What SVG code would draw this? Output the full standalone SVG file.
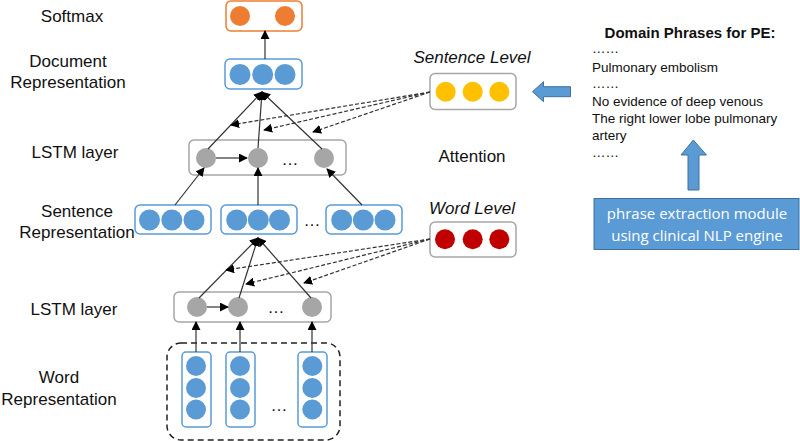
<svg xmlns="http://www.w3.org/2000/svg" width="800" height="441" viewBox="0 0 800 441">
<defs>
<style>
.lbl{font-family:"Liberation Sans",Arial,sans-serif;font-size:17px;fill:#111;text-anchor:middle}
.ital{font-family:"Liberation Sans",Arial,sans-serif;font-size:17px;font-style:italic;fill:#111;text-anchor:middle}
.ph{font-family:"Liberation Sans",Arial,sans-serif;font-size:13.5px;fill:#111}
.bbox{fill:#fff;stroke:#5b9bd5;stroke-width:1.5}
.gbox{fill:#fff;stroke:#a6a6a6;stroke-width:1.5}
.bc{fill:#5b9bd5}
.gc{fill:#a6a6a6}
.sol{stroke:#333;stroke-width:1.2;fill:none}
.dash{stroke:#333;stroke-width:1.2;fill:none;stroke-dasharray:4,2}
.dots{font-family:"Liberation Sans",Arial,sans-serif;font-size:17px;fill:#111;text-anchor:middle}
</style>
<marker id="ah" viewBox="0 0 10 10" refX="9" refY="5" markerWidth="9" markerHeight="9" markerUnits="userSpaceOnUse" orient="auto">
<path d="M0,0 L10,5 L0,10 z" fill="#000"/>
</marker>
</defs>

<g id="labels">
<text class="lbl" x="72" y="22">Softmax</text>
<text class="lbl" x="68" y="67">Document</text>
<text class="lbl" x="68" y="88">Representation</text>
<text class="lbl" x="75" y="158">LSTM layer</text>
<text class="lbl" x="77" y="217">Sentence</text>
<text class="lbl" x="77" y="238">Representation</text>
<text class="lbl" x="74" y="315">LSTM layer</text>
<text class="lbl" x="59" y="383">Word</text>
<text class="lbl" x="59" y="405">Representation</text>
<text class="lbl" x="472" y="162">Attention</text>
</g>

<g id="softmax">
<rect x="226" y="1" width="76" height="30" rx="5" fill="#fff" stroke="#ed7d31" stroke-width="1.5"/>
<circle cx="240" cy="16" r="10" fill="#ed7d31"/>
<circle cx="285" cy="16" r="10" fill="#ed7d31"/>
</g>

<g id="document">
<rect class="bbox" x="225" y="59" width="77" height="30" rx="5"/>
<circle class="bc" cx="240" cy="74.5" r="10.5"/>
<circle class="bc" cx="262.7" cy="74.5" r="10.5"/>
<circle class="bc" cx="285" cy="74.5" r="10.5"/>
</g>

<g id="lstm-upper">
<rect class="gbox" x="189" y="140" width="157" height="35" rx="5"/>
<circle class="gc" cx="206" cy="158" r="10"/>
<circle class="gc" cx="258" cy="158" r="10"/>
<circle class="gc" cx="324" cy="158" r="10"/>
<text class="dots" x="290" y="165">…</text>
</g>

<g id="sentence-rep">
<rect class="bbox" x="135" y="205" width="76" height="29" rx="5"/>
<circle class="bc" cx="149.5" cy="220" r="10.5"/>
<circle class="bc" cx="171.8" cy="220" r="10.5"/>
<circle class="bc" cx="194" cy="220" r="10.5"/>
<rect class="bbox" x="221" y="205" width="76" height="29" rx="5"/>
<circle class="bc" cx="236.7" cy="220" r="10.5"/>
<circle class="bc" cx="258.3" cy="220" r="10.5"/>
<circle class="bc" cx="279.5" cy="220" r="10.5"/>
<rect class="bbox" x="326" y="205" width="76" height="29" rx="5"/>
<circle class="bc" cx="341.7" cy="220" r="10.5"/>
<circle class="bc" cx="363.3" cy="220" r="10.5"/>
<circle class="bc" cx="385" cy="220" r="10.5"/>
<text class="dots" x="312" y="226">…</text>
</g>

<g id="lstm-lower">
<rect class="gbox" x="174" y="292" width="157" height="30" rx="5"/>
<circle class="gc" cx="197" cy="307" r="10"/>
<circle class="gc" cx="238" cy="307" r="10"/>
<circle class="gc" cx="312" cy="307" r="10"/>
<text class="dots" x="276" y="313">…</text>
</g>

<g id="word-rep">
<rect x="167" y="343" width="173" height="97" rx="14" fill="none" stroke="#222" stroke-width="1.5" stroke-dasharray="6,4"/>
<rect class="bbox" x="182" y="352" width="29" height="75" rx="4"/>
<circle class="bc" cx="196" cy="366" r="10"/>
<circle class="bc" cx="196" cy="388" r="10"/>
<circle class="bc" cx="196" cy="409.5" r="10"/>
<rect class="bbox" x="226" y="352" width="29" height="75" rx="4"/>
<circle class="bc" cx="240" cy="366" r="10"/>
<circle class="bc" cx="240" cy="388" r="10"/>
<circle class="bc" cx="240" cy="409.5" r="10"/>
<rect class="bbox" x="298" y="352" width="29" height="75" rx="4"/>
<circle class="bc" cx="312.3" cy="366" r="10"/>
<circle class="bc" cx="312.3" cy="388" r="10"/>
<circle class="bc" cx="312.3" cy="409.5" r="10"/>
<text class="dots" x="279" y="411">…</text>
</g>

<g id="sentence-level">
<text class="ital" x="472" y="63">Sentence Level</text>
<rect class="gbox" x="430" y="73.5" width="86" height="36" rx="5"/>
<circle cx="445.7" cy="91.7" r="10" fill="#ffc000"/>
<circle cx="472.7" cy="91.7" r="10" fill="#ffc000"/>
<circle cx="499.3" cy="91.7" r="10" fill="#ffc000"/>
</g>

<g id="word-level">
<text class="ital" x="472" y="214">Word Level</text>
<rect class="gbox" x="430" y="222" width="86" height="35" rx="5"/>
<circle cx="445" cy="239.3" r="10" fill="#c00000"/>
<circle cx="472.7" cy="239.3" r="10" fill="#c00000"/>
<circle cx="499.3" cy="239.3" r="10" fill="#c00000"/>
</g>

<g id="domain-phrases">
<text x="690" y="38" font-family="'Liberation Sans',Arial,sans-serif" font-size="15" font-weight="bold" fill="#111" text-anchor="middle">Domain Phrases for PE:</text>
<text class="ph" x="592" y="53">……</text>
<text class="ph" x="592" y="72">Pulmonary embolism</text>
<text class="ph" x="592" y="88">……</text>
<text class="ph" x="592" y="106">No evidence of deep venous</text>
<text class="ph" x="592" y="123">The right lower lobe pulmonary</text>
<text class="ph" x="592" y="140">artery</text>
<text class="ph" x="592" y="157">……</text>
</g>

<g id="phrase-module">
<rect x="594" y="198.5" width="205" height="51" fill="#5b9bd5" stroke="#41719c" stroke-width="1"/>
<text x="697" y="219" font-family="'Open Sans','Noto Sans',sans-serif" font-size="15" fill="#fff" text-anchor="middle">phrase extraction module</text>
<text x="697" y="241" font-family="'Open Sans','Noto Sans',sans-serif" font-size="15" fill="#fff" text-anchor="middle">using clinical NLP engine</text>
</g>

<g id="connectors">
<line class="sol" x1="196" y1="352" x2="196" y2="322" marker-end="url(#ah)"/>
<line class="sol" x1="240" y1="352" x2="240" y2="322" marker-end="url(#ah)"/>
<line class="sol" x1="312" y1="352" x2="312" y2="322" marker-end="url(#ah)"/>
<line class="sol" x1="207" y1="307" x2="228" y2="307" marker-end="url(#ah)"/>
<line class="sol" x1="199" y1="298" x2="258" y2="238" marker-end="url(#ah)"/>
<line class="sol" x1="239" y1="298" x2="258" y2="238" marker-end="url(#ah)"/>
<line class="sol" x1="311" y1="298" x2="258" y2="238" marker-end="url(#ah)"/>
<line class="dash" x1="430" y1="239" x2="226" y2="270" marker-end="url(#ah)"/>
<line class="dash" x1="430" y1="239" x2="246" y2="284" marker-end="url(#ah)"/>
<line class="dash" x1="430" y1="239" x2="304" y2="283" marker-end="url(#ah)"/>
<line class="sol" x1="175" y1="205" x2="204" y2="168" marker-end="url(#ah)"/>
<line class="sol" x1="258" y1="205" x2="258" y2="168" marker-end="url(#ah)"/>
<line class="sol" x1="362" y1="205" x2="327" y2="169" marker-end="url(#ah)"/>
<line class="sol" x1="216" y1="158" x2="247" y2="158" marker-end="url(#ah)"/>
<line class="sol" x1="208" y1="149" x2="262" y2="92" marker-end="url(#ah)"/>
<line class="sol" x1="258" y1="148" x2="262" y2="92" marker-end="url(#ah)"/>
<line class="sol" x1="322" y1="149" x2="262" y2="92" marker-end="url(#ah)"/>
<line class="dash" x1="430" y1="92" x2="231" y2="125" marker-end="url(#ah)"/>
<line class="dash" x1="430" y1="92" x2="264" y2="130" marker-end="url(#ah)"/>
<line class="dash" x1="430" y1="92" x2="313" y2="132" marker-end="url(#ah)"/>
<line class="sol" x1="265" y1="59" x2="265" y2="31" marker-end="url(#ah)"/>
<path d="M532.5,91.7 L543.5,81.7 L543.5,86.7 L570.5,86.7 L570.5,96.7 L543.5,96.7 L543.5,101.7 Z" fill="#5b9bd5" stroke="#41719c" stroke-width="1"/>
<path d="M693.3,140 L706.5,155 L699,155 L699,190 L688,190 L688,155 L681,155 Z" fill="#5b9bd5" stroke="#41719c" stroke-width="1"/>
</g>
</svg>
